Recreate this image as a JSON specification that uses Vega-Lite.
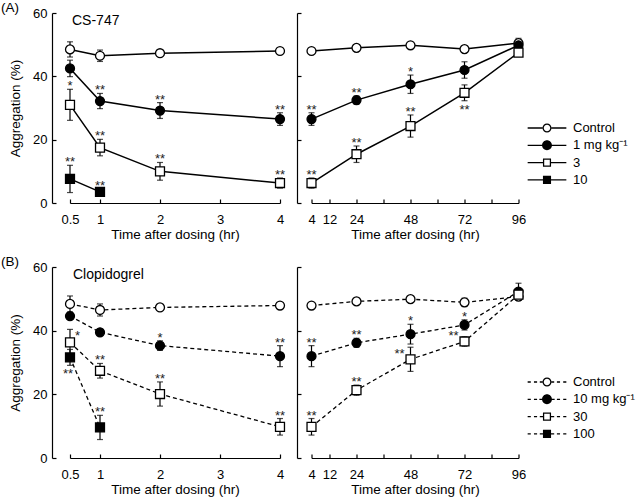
{
  "$schema": "https://vega.github.io/schema/vega-lite/v6.json",
  "padding": {"left": 1, "top": 0, "right": 5, "bottom": 3},
  "background": "white",
  "datasets": {
    "cs": [
      {"s": "Control", "t": 0.5, "m": 48.5, "lo": 46.1, "hi": 50.9},
      {"s": "Control", "t": 1, "m": 46.5, "lo": 44.7, "hi": 48.3},
      {"s": "Control", "t": 2, "m": 47.3, "lo": 46.6, "hi": 48.0},
      {"s": "Control", "t": 4, "m": 48.0, "lo": 47.4, "hi": 48.6},
      {"s": "Control", "t": 24, "m": 49.0, "lo": 48.2, "hi": 49.8},
      {"s": "Control", "t": 48, "m": 49.8, "lo": 49.1, "hi": 50.5},
      {"s": "Control", "t": 72, "m": 48.6, "lo": 47.6, "hi": 49.6},
      {"s": "Control", "t": 96, "m": 50.5, "lo": 49.0, "hi": 52.0},
      {"s": "1 mg kg⁻¹", "t": 0.5, "m": 42.5, "lo": 39.9, "hi": 45.1},
      {"s": "1 mg kg⁻¹", "t": 1, "m": 32.2, "lo": 29.8, "hi": 34.6, "sig": "**", "pos": "a"},
      {"s": "1 mg kg⁻¹", "t": 2, "m": 29.2, "lo": 26.7, "hi": 31.7, "sig": "**", "pos": "a"},
      {"s": "1 mg kg⁻¹", "t": 4, "m": 26.5, "lo": 24.5, "hi": 28.5, "sig": "**", "pos": "a"},
      {"s": "1 mg kg⁻¹", "t": 24, "m": 32.5, "lo": 31.2, "hi": 33.8, "sig": "**", "pos": "a"},
      {"s": "1 mg kg⁻¹", "t": 48, "m": 37.5, "lo": 34.6, "hi": 40.4, "sig": "*", "pos": "a"},
      {"s": "1 mg kg⁻¹", "t": 72, "m": 42.0, "lo": 39.4, "hi": 44.6},
      {"s": "1 mg kg⁻¹", "t": 96, "m": 49.8, "lo": 48.6, "hi": 51.0},
      {"s": "3", "t": 0.5, "m": 31.0, "lo": 26.1, "hi": 35.9, "sig": "*", "pos": "a"},
      {"s": "3", "t": 1, "m": 17.5, "lo": 14.9, "hi": 20.1, "sig": "**", "pos": "a"},
      {"s": "3", "t": 2, "m": 10.0, "lo": 7.2, "hi": 12.8, "sig": "**", "pos": "a"},
      {"s": "3", "t": 4, "m": 6.3, "lo": 4.7, "hi": 7.9, "sig": "**", "pos": "a"},
      {"s": "3", "t": 24, "m": 15.4, "lo": 12.8, "hi": 18.0, "sig": "**", "pos": "a"},
      {"s": "3", "t": 48, "m": 24.3, "lo": 20.8, "hi": 27.8, "sig": "**", "pos": "a"},
      {"s": "3", "t": 72, "m": 34.8, "lo": 32.3, "hi": 37.3, "sig": "**", "pos": "b"},
      {"s": "3", "t": 96, "m": 47.5, "lo": 46.5, "hi": 48.5},
      {"s": "10", "t": 0.5, "m": 7.6, "lo": 3.3, "hi": 11.9, "sig": "**", "pos": "a"},
      {"s": "10", "t": 1, "m": 3.5, "lo": 2.5, "hi": 4.5, "sig": "**", "pos": "a"}
    ],
    "cl": [
      {"s": "Control", "t": 0.5, "m": 48.4, "lo": 45.9, "hi": 50.9},
      {"s": "Control", "t": 1, "m": 46.5, "lo": 44.6, "hi": 48.4},
      {"s": "Control", "t": 2, "m": 47.3, "lo": 46.8, "hi": 47.8},
      {"s": "Control", "t": 4, "m": 47.9, "lo": 47.4, "hi": 48.4},
      {"s": "Control", "t": 24, "m": 49.2, "lo": 48.2, "hi": 50.2},
      {"s": "Control", "t": 48, "m": 49.9, "lo": 49.4, "hi": 50.4},
      {"s": "Control", "t": 72, "m": 48.9, "lo": 47.6, "hi": 50.2},
      {"s": "Control", "t": 96, "m": 50.7, "lo": 49.5, "hi": 51.9},
      {"s": "10 mg kg⁻¹", "t": 0.5, "m": 44.6, "lo": 43.8, "hi": 45.4},
      {"s": "10 mg kg⁻¹", "t": 1, "m": 39.5, "lo": 38.7, "hi": 40.3},
      {"s": "10 mg kg⁻¹", "t": 2, "m": 35.3, "lo": 33.8, "hi": 36.8, "sig": "*", "pos": "a"},
      {"s": "10 mg kg⁻¹", "t": 4, "m": 32.0, "lo": 28.7, "hi": 35.3, "sig": "**", "pos": "a"},
      {"s": "10 mg kg⁻¹", "t": 24, "m": 36.2, "lo": 34.8, "hi": 37.6, "sig": "**", "pos": "a"},
      {"s": "10 mg kg⁻¹", "t": 48, "m": 38.9, "lo": 35.8, "hi": 42.0, "sig": "*", "pos": "a"},
      {"s": "10 mg kg⁻¹", "t": 72, "m": 41.8, "lo": 40.2, "hi": 43.4, "sig": "*", "pos": "a"},
      {"s": "10 mg kg⁻¹", "t": 96, "m": 52.3, "lo": 49.7, "hi": 54.9},
      {"s": "30", "t": 0.5, "m": 36.3, "lo": 32.2, "hi": 40.4, "sig": "*", "pos": "r"},
      {"s": "30", "t": 1, "m": 27.4, "lo": 25.1, "hi": 29.7, "sig": "**", "pos": "a"},
      {"s": "30", "t": 2, "m": 20.1, "lo": 16.3, "hi": 23.9, "sig": "**", "pos": "a"},
      {"s": "30", "t": 4, "m": 9.8, "lo": 7.2, "hi": 12.4, "sig": "**", "pos": "a"},
      {"s": "30", "t": 24, "m": 21.3, "lo": 19.7, "hi": 22.9, "sig": "**", "pos": "a"},
      {"s": "30", "t": 48, "m": 31.0, "lo": 27.2, "hi": 34.8, "sig": "**", "pos": "l"},
      {"s": "30", "t": 72, "m": 36.6, "lo": 35.1, "hi": 38.1, "sig": "**", "pos": "l"},
      {"s": "30", "t": 96, "m": 51.3, "lo": 50.1, "hi": 52.5},
      {"s": "100", "t": 0.5, "m": 31.6, "lo": 29.1, "hi": 34.1, "sig": "**", "pos": "b"},
      {"s": "100", "t": 1, "m": 9.6, "lo": 5.8, "hi": 13.4, "sig": "**", "pos": "a"}
    ]
  },
  "config": {
    "font": "Liberation Sans",
    "view": {"stroke": null},
    "axis": {
      "grid": false, "domainColor": "black", "tickColor": "black", "labelColor": "black", "titleColor": "black",
      "labelFontSize": 13, "titleFontSize": 13.5, "titleFontWeight": "normal", "tickSize": -4,
      "domainWidth": 1.2, "tickWidth": 1.2, "labelFlush": false, "labelOverlap": false, "labelBound": false
    },
    "title": {"fontWeight": "normal", "color": "black"}
  },
  "spacing": 13,
  "resolve": {"scale": {"shape": "independent", "fill": "independent", "x": "independent", "y": "independent"}, "legend": {"shape": "independent", "fill": "independent"}},
  "vconcat": [
    {
      "title": {"text": "(A)", "anchor": "start", "frame": "group", "dx": -69, "offset": -7, "fontSize": 13.5},
      "spacing": 31.5,
      "bounds": "flush",
      "resolve": {"scale": {"shape": "independent", "fill": "independent", "x": "independent", "y": "independent"}, "legend": {"shape": "independent", "fill": "independent"}},
      "hconcat": [
        {
          "width": 210, "height": 190,
          "data": {"name": "cs"},
          "transform": [{"filter": "!(datum.t > 4)"}],
          "layer": [
            {"mark": {"type": "line", "color": "black", "strokeWidth": 1.5},
             "encoding": {
               "x": {"field": "t", "type": "quantitative", "title": "Time after dosing (hr)", "scale": {"domain": [0.5, 4], "nice": false, "zero": false},
                 "axis": {"values": [0.5, 1, 2, 3, 4], "format": "~g", "labelPadding": 14, "titlePadding": 1}},
               "y": {"field": "m", "type": "quantitative", "title": "Aggregation (%)", "scale": {"domain": [0, 60], "nice": false},
               "axis": {"values": [0, 10, 20, 30, 40, 50, 60], "labelExpr": "datum.value % 20 === 0 ? datum.label : ''", "offset": 18, "labelPadding": 9, "titlePadding": 10}},
               "detail": {"field": "s"}}},
            {"mark": {"type": "rule", "color": "black", "strokeWidth": 1.2},
             "encoding": {"x": {"field": "t", "type": "quantitative", "title": "Time after dosing (hr)"}, "y": {"field": "lo", "type": "quantitative", "title": "Aggregation (%)"}, "y2": {"field": "hi"}}},
            {"mark": {"type": "tick", "orient": "horizontal", "size": 6, "thickness": 1.2, "color": "black"},
             "encoding": {"x": {"field": "t", "type": "quantitative", "title": "Time after dosing (hr)"}, "y": {"field": "hi", "type": "quantitative", "title": "Aggregation (%)"}}},
            {"mark": {"type": "tick", "orient": "horizontal", "size": 6, "thickness": 1.2, "color": "black"},
             "encoding": {"x": {"field": "t", "type": "quantitative", "title": "Time after dosing (hr)"}, "y": {"field": "lo", "type": "quantitative", "title": "Aggregation (%)"}}},
            {"mark": {"type": "point", "filled": true, "stroke": "black", "strokeWidth": 1.3, "size": 80, "opacity": 1},
             "encoding": {"x": {"field": "t", "type": "quantitative", "title": "Time after dosing (hr)"}, "y": {"field": "m", "type": "quantitative", "title": "Aggregation (%)"},
               "shape": {"field": "s", "type": "nominal", "scale": {"domain": ["Control", "1 mg kg⁻¹", "3", "10"], "range": ["circle", "circle", "square", "square"]}, "legend": null},
               "fill": {"field": "s", "type": "nominal", "scale": {"domain": ["Control", "1 mg kg⁻¹", "3", "10"], "range": ["white", "black", "white", "black"]}, "legend": null}}},
            {"transform": [{"filter": "datum.pos === 'a'"}],
             "mark": {"type": "text", "baseline": "alphabetic", "dy": 1, "fontSize": 13, "color": "#222"},
             "encoding": {"x": {"field": "t", "type": "quantitative", "title": "Time after dosing (hr)"}, "y": {"field": "hi", "type": "quantitative", "title": "Aggregation (%)"}, "text": {"field": "sig"}}},
            {"transform": [{"filter": "datum.pos === 'b'"}],
             "mark": {"type": "text", "baseline": "alphabetic", "dy": 13, "fontSize": 13, "color": "#222"},
             "encoding": {"x": {"field": "t", "type": "quantitative", "title": "Time after dosing (hr)"}, "y": {"field": "lo", "type": "quantitative", "title": "Aggregation (%)"}, "text": {"field": "sig"}}},
            {"data": {"values": [{"name": "CS-747"}]},
             "mark": {"type": "text", "align": "left", "baseline": "alphabetic", "dx": 2, "fontSize": 14, "color": "black"},
             "encoding": {"x": {"datum": 0.5, "type": "quantitative", "title": "Time after dosing (hr)"}, "y": {"datum": 56.2, "type": "quantitative", "title": "Aggregation (%)"}, "text": {"field": "name"}}}
          ]
        },
        {
          "width": 207, "height": 190,
          "data": {"name": "cs"},
          "transform": [{"filter": "datum.t >= 4"}],
          "resolve": {"scale": {"shape": "independent"}, "legend": {"shape": "independent"}},
          "encoding": {"x": {"field": "t", "type": "quantitative", "title": "Time after dosing (hr)", "scale": {"domain": [4, 96], "nice": false, "zero": false},
            "axis": {"values": [4, 12, 24, 36, 48, 60, 72, 84, 96], "labelExpr": "indexof([36, 60, 84], datum.value) >= 0 ? '' : datum.label", "labelPadding": 14, "titlePadding": 1}}},
          "layer": [
            {"mark": {"type": "line", "color": "black", "strokeWidth": 1.5},
             "encoding": {"y": {"field": "m", "type": "quantitative", "title": null, "scale": {"domain": [0, 60], "nice": false},
               "axis": {"values": [0, 10, 20, 30, 40, 50, 60], "labels": false, "offset": 14.5}},
               "detail": {"field": "s"}}},
            {"mark": {"type": "rule", "color": "black", "strokeWidth": 1.2},
             "encoding": {"y": {"field": "lo", "type": "quantitative", "title": null}, "y2": {"field": "hi"}}},
            {"mark": {"type": "tick", "orient": "horizontal", "size": 6, "thickness": 1.2, "color": "black"},
             "encoding": {"y": {"field": "hi", "type": "quantitative", "title": null}}},
            {"mark": {"type": "tick", "orient": "horizontal", "size": 6, "thickness": 1.2, "color": "black"},
             "encoding": {"y": {"field": "lo", "type": "quantitative", "title": null}}},
            {"mark": {"type": "point", "filled": true, "stroke": "black", "strokeWidth": 1.3, "size": 80, "opacity": 1},
             "encoding": {"y": {"field": "m", "type": "quantitative", "title": null},
               "shape": {"field": "s", "type": "nominal", "scale": {"domain": ["Control", "1 mg kg⁻¹", "3", "10"], "range": ["circle", "circle", "square", "square"]}, "legend": null},
               "fill": {"field": "s", "type": "nominal", "scale": {"domain": ["Control", "1 mg kg⁻¹", "3", "10"], "range": ["white", "black", "white", "black"]}, "legend": null}}},
            {"transform": [{"filter": "datum.pos === 'a'"}],
             "mark": {"type": "text", "baseline": "alphabetic", "dy": 1, "fontSize": 13, "color": "#222"},
             "encoding": {"y": {"field": "hi", "type": "quantitative", "title": null}, "text": {"field": "sig"}}},
            {"transform": [{"filter": "datum.pos === 'b'"}],
             "mark": {"type": "text", "baseline": "alphabetic", "dy": 13, "fontSize": 13, "color": "#222"},
             "encoding": {"y": {"field": "lo", "type": "quantitative", "title": null}, "text": {"field": "sig"}}},
            {"transform": [{"filter": "false"}],
             "mark": {"type": "point", "filled": true, "color": "black", "opacity": 1},
             "encoding": {"y": {"field": "m", "type": "quantitative", "title": null},
               "shape": {"field": "s", "type": "nominal",
                 "scale": {"domain": ["Control", "1 mg kg⁻¹", "3", "10"],
                   "range": [
                     "M-1,0A1,1,0,1,1,1,0A1,1,0,1,1,-1,0ZM-0.72,0A0.72,0.72,0,1,0,0.72,0A0.72,0.72,0,1,0,-0.72,0ZM-4.3,-0.14L-1,-0.14L-1,0.14L-4.3,0.14ZM1,-0.14L4.3,-0.14L4.3,0.14L1,0.14Z",
                     "M-1.1,0A1.1,1.1,0,1,1,1.1,0A1.1,1.1,0,1,1,-1.1,0ZM-4.3,-0.14L-1.05,-0.14L-1.05,0.14L-4.3,0.14ZM1.05,-0.14L4.3,-0.14L4.3,0.14L1.05,0.14Z",
                     "M-0.9,-0.9L0.9,-0.9L0.9,0.9L-0.9,0.9ZM-0.62,-0.62L-0.62,0.62L0.62,0.62L0.62,-0.62ZM-4.3,-0.14L-0.9,-0.14L-0.9,0.14L-4.3,0.14ZM0.9,-0.14L4.3,-0.14L4.3,0.14L0.9,0.14Z",
                     "M-0.9,-0.9L0.9,-0.9L0.9,0.9L-0.9,0.9ZM-4.3,-0.14L-0.9,-0.14L-0.9,0.14L-4.3,0.14ZM0.9,-0.14L4.3,-0.14L4.3,0.14L0.9,0.14Z"
                   ]},
                 "legend": {"orient": "none", "legendX": 229, "legendY": 108.5, "title": null, "labelFontSize": 13, "labelColor": "black",
                   "symbolSize": 81, "labelOffset": 19.5, "rowPadding": 3.3, "padding": 0, "symbolStrokeWidth": 0, "symbolFillColor": "black", "symbolOpacity": 1}}}}
          ]
        }
      ]
    },
    {
      "title": {"text": "(B)", "anchor": "start", "frame": "group", "dx": -69, "offset": -7, "fontSize": 13.5},
      "spacing": 31.5,
      "bounds": "flush",
      "resolve": {"scale": {"shape": "independent", "fill": "independent", "x": "independent", "y": "independent"}, "legend": {"shape": "independent", "fill": "independent"}},
      "hconcat": [
        {
          "width": 210, "height": 191,
          "data": {"name": "cl"},
          "transform": [{"filter": "!(datum.t > 4)"}],
          "layer": [
            {"mark": {"type": "line", "color": "black", "strokeWidth": 1.3, "strokeDash": [4, 3]},
             "encoding": {
               "x": {"field": "t", "type": "quantitative", "title": "Time after dosing (hr)", "scale": {"domain": [0.5, 4], "nice": false, "zero": false},
                 "axis": {"values": [0.5, 1, 2, 3, 4], "format": "~g", "labelPadding": 14, "titlePadding": 1}},
               "y": {"field": "m", "type": "quantitative", "title": "Aggregation (%)", "scale": {"domain": [0, 60], "nice": false},
               "axis": {"values": [0, 10, 20, 30, 40, 50, 60], "labelExpr": "datum.value % 20 === 0 ? datum.label : ''", "offset": 18, "labelPadding": 9, "titlePadding": 10}},
               "detail": {"field": "s"}}},
            {"mark": {"type": "rule", "color": "black", "strokeWidth": 1.2},
             "encoding": {"x": {"field": "t", "type": "quantitative", "title": "Time after dosing (hr)"}, "y": {"field": "lo", "type": "quantitative", "title": "Aggregation (%)"}, "y2": {"field": "hi"}}},
            {"mark": {"type": "tick", "orient": "horizontal", "size": 6, "thickness": 1.2, "color": "black"},
             "encoding": {"x": {"field": "t", "type": "quantitative", "title": "Time after dosing (hr)"}, "y": {"field": "hi", "type": "quantitative", "title": "Aggregation (%)"}}},
            {"mark": {"type": "tick", "orient": "horizontal", "size": 6, "thickness": 1.2, "color": "black"},
             "encoding": {"x": {"field": "t", "type": "quantitative", "title": "Time after dosing (hr)"}, "y": {"field": "lo", "type": "quantitative", "title": "Aggregation (%)"}}},
            {"mark": {"type": "point", "filled": true, "stroke": "black", "strokeWidth": 1.3, "size": 80, "opacity": 1},
             "encoding": {"x": {"field": "t", "type": "quantitative", "title": "Time after dosing (hr)"}, "y": {"field": "m", "type": "quantitative", "title": "Aggregation (%)"},
               "shape": {"field": "s", "type": "nominal", "scale": {"domain": ["Control", "10 mg kg⁻¹", "30", "100"], "range": ["circle", "circle", "square", "square"]}, "legend": null},
               "fill": {"field": "s", "type": "nominal", "scale": {"domain": ["Control", "10 mg kg⁻¹", "30", "100"], "range": ["white", "black", "white", "black"]}, "legend": null}}},
            {"transform": [{"filter": "datum.pos === 'a'"}],
             "mark": {"type": "text", "baseline": "alphabetic", "dy": 1, "fontSize": 13, "color": "#222"},
             "encoding": {"x": {"field": "t", "type": "quantitative", "title": "Time after dosing (hr)"}, "y": {"field": "hi", "type": "quantitative", "title": "Aggregation (%)"}, "text": {"field": "sig"}}},
            {"transform": [{"filter": "datum.pos === 'b'"}],
             "mark": {"type": "text", "baseline": "alphabetic", "dy": 13, "dx": -2, "fontSize": 13, "color": "#222"},
             "encoding": {"x": {"field": "t", "type": "quantitative", "title": "Time after dosing (hr)"}, "y": {"field": "lo", "type": "quantitative", "title": "Aggregation (%)"}, "text": {"field": "sig"}}},
            {"transform": [{"filter": "datum.pos === 'r'"}],
             "mark": {"type": "text", "baseline": "alphabetic", "align": "left", "dx": 5, "dy": -2, "fontSize": 13, "color": "#222"},
             "encoding": {"x": {"field": "t", "type": "quantitative", "title": "Time after dosing (hr)"}, "y": {"field": "m", "type": "quantitative", "title": "Aggregation (%)"}, "text": {"field": "sig"}}},
            {"data": {"values": [{"name": "Clopidogrel"}]},
             "mark": {"type": "text", "align": "left", "baseline": "alphabetic", "dx": 3, "fontSize": 14, "color": "black"},
             "encoding": {"x": {"datum": 0.5, "type": "quantitative", "title": "Time after dosing (hr)"}, "y": {"datum": 56.2, "type": "quantitative", "title": "Aggregation (%)"}, "text": {"field": "name"}}}
          ]
        },
        {
          "width": 207, "height": 191,
          "data": {"name": "cl"},
          "transform": [{"filter": "datum.t >= 4"}],
          "resolve": {"scale": {"shape": "independent"}, "legend": {"shape": "independent"}},
          "encoding": {"x": {"field": "t", "type": "quantitative", "title": "Time after dosing (hr)", "scale": {"domain": [4, 96], "nice": false, "zero": false},
            "axis": {"values": [4, 12, 24, 36, 48, 60, 72, 84, 96], "labelExpr": "indexof([36, 60, 84], datum.value) >= 0 ? '' : datum.label", "labelPadding": 14, "titlePadding": 1}}},
          "layer": [
            {"mark": {"type": "line", "color": "black", "strokeWidth": 1.3, "strokeDash": [4, 3]},
             "encoding": {"y": {"field": "m", "type": "quantitative", "title": null, "scale": {"domain": [0, 60], "nice": false},
               "axis": {"values": [0, 10, 20, 30, 40, 50, 60], "labels": false, "offset": 14.5}},
               "detail": {"field": "s"}}},
            {"mark": {"type": "rule", "color": "black", "strokeWidth": 1.2},
             "encoding": {"y": {"field": "lo", "type": "quantitative", "title": null}, "y2": {"field": "hi"}}},
            {"mark": {"type": "tick", "orient": "horizontal", "size": 6, "thickness": 1.2, "color": "black"},
             "encoding": {"y": {"field": "hi", "type": "quantitative", "title": null}}},
            {"mark": {"type": "tick", "orient": "horizontal", "size": 6, "thickness": 1.2, "color": "black"},
             "encoding": {"y": {"field": "lo", "type": "quantitative", "title": null}}},
            {"mark": {"type": "point", "filled": true, "stroke": "black", "strokeWidth": 1.3, "size": 80, "opacity": 1},
             "encoding": {"y": {"field": "m", "type": "quantitative", "title": null},
               "shape": {"field": "s", "type": "nominal", "scale": {"domain": ["Control", "10 mg kg⁻¹", "30", "100"], "range": ["circle", "circle", "square", "square"]}, "legend": null},
               "fill": {"field": "s", "type": "nominal", "scale": {"domain": ["Control", "10 mg kg⁻¹", "30", "100"], "range": ["white", "black", "white", "black"]}, "legend": null}}},
            {"transform": [{"filter": "datum.pos === 'a'"}],
             "mark": {"type": "text", "baseline": "alphabetic", "dy": 1, "fontSize": 13, "color": "#222"},
             "encoding": {"y": {"field": "hi", "type": "quantitative", "title": null}, "text": {"field": "sig"}}},
            {"transform": [{"filter": "datum.pos === 'l'"}],
             "mark": {"type": "text", "baseline": "alphabetic", "align": "right", "dx": -6, "dy": -1, "fontSize": 13, "color": "#222"},
             "encoding": {"y": {"field": "m", "type": "quantitative", "title": null}, "text": {"field": "sig"}}},
            {"transform": [{"filter": "false"}],
             "mark": {"type": "point", "filled": true, "color": "black", "opacity": 1},
             "encoding": {"y": {"field": "m", "type": "quantitative", "title": null},
               "shape": {"field": "s", "type": "nominal",
                 "scale": {"domain": ["Control", "10 mg kg⁻¹", "30", "100"],
                   "range": [
                     "M-1,0A1,1,0,1,1,1,0A1,1,0,1,1,-1,0ZM-0.72,0A0.72,0.72,0,1,0,0.72,0A0.72,0.72,0,1,0,-0.72,0ZM-4.3,-0.14L-3.6,-0.14L-3.6,0.14L-4.3,0.14ZM-2.9,-0.14L-2.2,-0.14L-2.2,0.14L-2.9,0.14ZM-1.6,-0.14L-1,-0.14L-1,0.14L-1.6,0.14ZM1,-0.14L1.6,-0.14L1.6,0.14L1,0.14ZM2.2,-0.14L2.9,-0.14L2.9,0.14L2.2,0.14ZM3.6,-0.14L4.3,-0.14L4.3,0.14L3.6,0.14Z",
                     "M-1.1,0A1.1,1.1,0,1,1,1.1,0A1.1,1.1,0,1,1,-1.1,0ZM-4.3,-0.14L-3.6,-0.14L-3.6,0.14L-4.3,0.14ZM-2.9,-0.14L-2.2,-0.14L-2.2,0.14L-2.9,0.14ZM-1.7,-0.14L-1.05,-0.14L-1.05,0.14L-1.7,0.14ZM1.05,-0.14L1.7,-0.14L1.7,0.14L1.05,0.14ZM2.2,-0.14L2.9,-0.14L2.9,0.14L2.2,0.14ZM3.6,-0.14L4.3,-0.14L4.3,0.14L3.6,0.14Z",
                     "M-0.9,-0.9L0.9,-0.9L0.9,0.9L-0.9,0.9ZM-0.62,-0.62L-0.62,0.62L0.62,0.62L0.62,-0.62ZM-4.3,-0.14L-3.6,-0.14L-3.6,0.14L-4.3,0.14ZM-2.9,-0.14L-2.2,-0.14L-2.2,0.14L-2.9,0.14ZM-1.6,-0.14L-0.9,-0.14L-0.9,0.14L-1.6,0.14ZM0.9,-0.14L1.6,-0.14L1.6,0.14L0.9,0.14ZM2.2,-0.14L2.9,-0.14L2.9,0.14L2.2,0.14ZM3.6,-0.14L4.3,-0.14L4.3,0.14L3.6,0.14Z",
                     "M-0.9,-0.9L0.9,-0.9L0.9,0.9L-0.9,0.9ZM-4.3,-0.14L-3.6,-0.14L-3.6,0.14L-4.3,0.14ZM-2.9,-0.14L-2.2,-0.14L-2.2,0.14L-2.9,0.14ZM-1.6,-0.14L-0.9,-0.14L-0.9,0.14L-1.6,0.14ZM0.9,-0.14L1.6,-0.14L1.6,0.14L0.9,0.14ZM2.2,-0.14L2.9,-0.14L2.9,0.14L2.2,0.14ZM3.6,-0.14L4.3,-0.14L4.3,0.14L3.6,0.14Z"
                   ]},
                 "legend": {"orient": "none", "legendX": 229, "legendY": 108.5, "title": null, "labelFontSize": 13, "labelColor": "black",
                   "symbolSize": 81, "labelOffset": 19.5, "rowPadding": 3.3, "padding": 0, "symbolStrokeWidth": 0, "symbolFillColor": "black", "symbolOpacity": 1}}}}
          ]
        }
      ]
    }
  ]
}
